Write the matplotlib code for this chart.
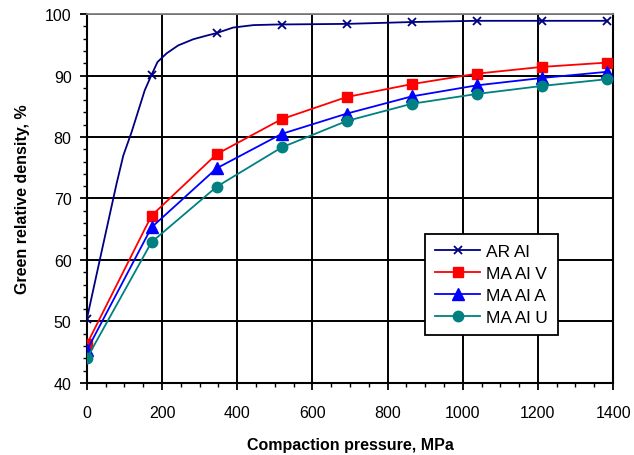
import numpy as np
import matplotlib
matplotlib.use("Agg")
import matplotlib.pyplot as plt
from matplotlib.ticker import MultipleLocator

plt.rcParams['font.family'] = ['Liberation Sans', 'DejaVu Sans']

# Data
pressure = [0, 172, 345, 518, 691, 864, 1037, 1210, 1383]
ar_al = [50.4, 90.1, 96.9, 98.2, 98.4, 98.7, 98.9, 98.9, 98.9]
ma_al_v = [46.3, 67.2, 77.2, 82.9, 86.5, 88.6, 90.3, 91.4, 92.1]
ma_al_a = [45.3, 65.3, 74.9, 80.5, 83.8, 86.6, 88.4, 89.6, 90.6]
ma_al_u = [44.0, 62.9, 71.9, 78.3, 82.6, 85.4, 87.0, 88.3, 89.4]
labels = ["AR Al", "MA Al V", "MA Al A", "MA Al U"]

# AR Al curve (line drawn without markers)
ar_curve_x = [0, 39, 79, 97, 119, 137, 154, 172, 188, 212, 243, 283, 319, 345,
              389, 443, 505, 691, 864, 1037, 1210, 1383]
ar_curve_y = [50.4, 61.3, 72.4, 77.0, 80.8, 84.3, 87.6, 90.1, 92.2, 93.6, 94.9,
              95.9, 96.5, 96.9, 97.8, 98.2, 98.3, 98.4, 98.7, 98.9, 98.9, 98.9]

fig = plt.figure(figsize=(6.34, 4.56), dpi=100)
ax = fig.add_axes([0.137, 0.158, 0.830, 0.809])

ax.plot(ar_curve_x, ar_curve_y, color='#000080', lw=1.3, zorder=3)
ax.plot(pressure, ar_al, ls='none', marker='x', color='#000080', ms=6,
        mew=1.3, zorder=4)
ax.plot([], [], color='#000080', lw=1.3, marker='x', ms=6, mew=1.3, label=labels[0])

ax.plot(pressure, ma_al_v, color='#FF0000', lw=1.3, marker='s', ms=7,
        label=labels[1], zorder=4)
ax.plot(pressure, ma_al_a, color='#0000FF', lw=1.3, marker='^', ms=8,
        label=labels[2], zorder=4)
ax.plot(pressure, ma_al_u, color='#008080', lw=1.3, marker='o', ms=7.5,
        label=labels[3], zorder=4)

ax.set_xlim(0, 1400)
ax.set_ylim(40, 100)
ax.xaxis.set_major_locator(MultipleLocator(200))
ax.xaxis.set_minor_locator(MultipleLocator(50))
ax.yaxis.set_major_locator(MultipleLocator(10))
ax.yaxis.set_minor_locator(MultipleLocator(2))
ax.grid(True, which='major', color='black', lw=1.4)
ax.set_axisbelow(True)

ax.tick_params(which='major', direction='out', length=5, width=1.3,
               labelsize=11.5, pad=6)
ax.tick_params(axis='x', which='major', pad=11)
ax.tick_params(which='minor', direction='out', length=3, width=1.0)
ax.tick_params(top=False, right=False, which='both')

for side in ['left', 'bottom', 'right']:
    ax.spines[side].set_linewidth(1.5)
    ax.spines[side].set_color('black')
ax.spines['top'].set_linewidth(1.3)
ax.spines['top'].set_color('#808080')

ax.set_xlabel("Compaction pressure, MPa", fontsize=11.5, fontweight='bold', labelpad=12)
ax.set_ylabel("Green relative density, %", fontsize=11.5, fontweight='bold', labelpad=11)

leg = ax.legend(loc='lower right', bbox_to_anchor=(0.895, 0.13), borderaxespad=0,
                fontsize=12.5, fancybox=False, framealpha=1, edgecolor='black',
                handlelength=2.6, borderpad=0.6, labelspacing=0.38,
                handletextpad=0.3)
leg.get_frame().set_linewidth(1.3)

fig.savefig("out.png", dpi=100)
